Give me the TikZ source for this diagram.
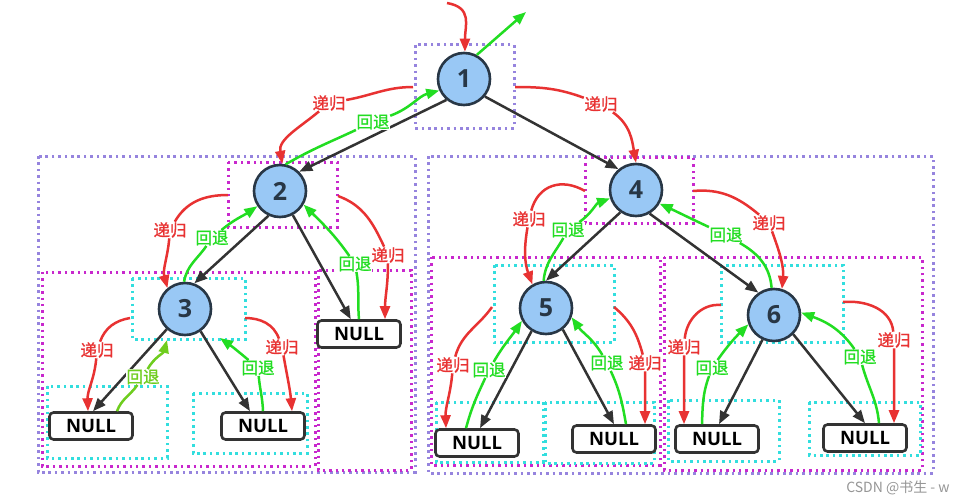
\documentclass[tikz,border=0pt]{standalone}
\usepackage{fontspec}
\usetikzlibrary{arrows.meta}
\newfontfamily\numfont{Open Sans}
\newfontfamily\cjkfont{Noto Sans CJK SC}
\newfontfamily\cjkbold{Noto Sans CJK SC}[FakeBold=1.2]
\definecolor{nodefill}{RGB}{153,200,245}
\definecolor{nodeline}{RGB}{40,55,70}
\definecolor{edgecol}{RGB}{51,51,51}
\definecolor{redc}{RGB}{232,50,50}
\definecolor{greenc}{RGB}{34,221,34}
\definecolor{oliveg}{RGB}{110,205,30}
\definecolor{lavc}{RGB}{150,132,222}
\definecolor{magc}{RGB}{200,40,205}
\definecolor{cyanc}{RGB}{50,222,222}
\definecolor{wmgray}{RGB}{150,150,150}
\begin{document}
\begin{tikzpicture}[x=1pt,y=1pt,
 circ/.style={circle, draw=nodeline, fill=nodefill, line width=2.6pt, minimum size=52pt, inner sep=0pt, font=\numfont\bfseries\fontsize{25}{25}\selectfont, text=nodeline},
 nullbox/.style={rectangle, rounded corners=4pt, draw=edgecol, fill=white, line width=2.6pt, minimum width=83pt, minimum height=27pt, inner sep=0pt, font=\numfont\bfseries\fontsize{18.5}{18.5}\selectfont, text=black},
 edge/.style={draw=edgecol, line width=2.5pt, -{Triangle[length=13pt,width=10pt]}},
 rec/.style={draw=redc, line width=2.5pt, -{Triangle[length=13pt,width=10pt]}},
 bak/.style={draw=greenc, line width=2.5pt, -{Triangle[length=13pt,width=10pt]}},
 bakol/.style={draw=oliveg, line width=2.5pt, -{Triangle[length=13pt,width=10pt]}},
 reclab/.style={fill=white, inner sep=0.5pt, text=redc, font=\cjkbold\fontsize{16.5}{16.5}\selectfont},
 baklab/.style={fill=white, inner sep=0.5pt, text=greenc, font=\cjkbold\fontsize{16.5}{16.5}\selectfont},
 lavbox/.style={draw=lavc, line width=3pt, dash pattern=on 2.6pt off 3.8pt},
 magbox/.style={draw=magc, line width=3pt, dash pattern=on 2.4pt off 4pt},
 cyanbox/.style={draw=cyanc, line width=3pt, dash pattern=on 2.6pt off 3.8pt},
]
\useasboundingbox[fill=white] (0,0) rectangle (972,-503);

% dotted frames
\draw[lavbox] (415,-45) rectangle (514,-128);
\draw[lavbox] (38,-156) rectangle (415,-472);
\draw[lavbox] (428,-156) rectangle (933,-473);
\draw[magbox] (228,-162) rectangle (337,-227);
\draw[magbox] (585,-157) rectangle (693,-223);
\draw[magbox] (42,-272) rectangle (315,-466);
\draw[magbox] (318,-270) rectangle (411,-470);
\draw[magbox] (431,-257) rectangle (660,-465);
\draw[magbox] (664,-257) rectangle (922,-470);
\draw[cyanbox] (132,-278) rectangle (245,-339);
\draw[cyanbox] (47,-386) rectangle (167,-458);
\draw[cyanbox] (193,-393) rectangle (307,-453);
\draw[cyanbox] (494,-265) rectangle (614,-342);
\draw[cyanbox] (721,-265) rectangle (843,-342);
\draw[cyanbox] (436,-402) rectangle (543,-462);
\draw[cyanbox] (545,-402) rectangle (654,-463);
\draw[cyanbox] (668,-400) rectangle (779,-461);
\draw[cyanbox] (809,-402) rectangle (920,-455);

% tree nodes
\node[circ] (n1) at (464,-79) {1};
\node[circ] (n2) at (280,-191) {2};
\node[circ] (n4) at (636,-190) {4};
\node[circ] (n3) at (185,-309) {3};
\node[circ] (n5) at (546,-308) {5};
\node[circ] (n6) at (774,-315) {6};
\node[nullbox] (l2) at (359,-334) {NULL};
\node[nullbox] (l3a) at (91,-426) {NULL};
\node[nullbox] (l3b) at (263,-426) {NULL};
\node[nullbox] (l5a) at (477,-443) {NULL};
\node[nullbox] (l5b) at (614,-439) {NULL};
\node[nullbox] (l6a) at (717,-439) {NULL};
\node[nullbox] (l6b) at (865,-438) {NULL};

% tree edges
\draw[edge] (n1.230) -- (n2.45);
\draw[edge] (n1.-40) -- (n4.130);
\draw[edge] (n2.245) -- (n3.70);
\draw[edge] (n2.-62) -- (l2);
\draw[edge] (n3.228) -- ([xshift=2pt]l3a.north);
\draw[edge] (n3.-55) -- ([xshift=-13pt]l3b.north);
\draw[edge] (n4.235) -- (n5.north);
\draw[edge] (n4.-60) -- (n6.125);
\draw[edge] (n5.238) -- ([xshift=3pt]l5a.north);
\draw[edge] (n5.-52) -- (l5b.north);
\draw[edge] (n6.245) -- ([xshift=2pt]l6a.north);
\draw[edge] (n6.-45) -- (l6b.north);

% labels
\node[reclab] (R12) at (329,-103) {递归};
\node[baklab] (G12) at (373,-122) {回退};
\node[reclab] (R14) at (601,-104) {递归};
\node[reclab] (R23) at (170,-230) {递归};
\node[baklab] (G23) at (212,-238) {回退};
\node[reclab] (R2N) at (388,-255) {递归};
\node[baklab] (G2N) at (355,-264) {回退};
\node[reclab] (R3a) at (97,-350) {递归};
\node[baklab,text=oliveg] (G3a) at (143,-377) {回退};
\node[reclab] (R3b) at (282,-347) {递归};
\node[baklab] (G3b) at (258,-368) {回退};
\node[reclab] (R45) at (529,-219) {递归};
\node[baklab] (G45) at (568,-230) {回退};
\node[reclab] (R46) at (769,-223) {递归};
\node[baklab] (G46) at (726,-235) {回退};
\node[reclab] (R5a) at (453,-365) {递归};
\node[baklab] (G5a) at (489,-370) {回退};
\node[reclab] (R5b) at (645,-363) {递归};
\node[baklab] (G5b) at (607,-363) {回退};
\node[reclab] (R6a) at (684,-347) {递归};
\node[baklab] (G6a) at (712,-368) {回退};
\node[reclab] (R6b) at (894,-340) {递归};
\node[baklab] (G6b) at (860,-357) {回退};

% free ends
\coordinate (s0) at (447,-3);
\coordinate (e0) at (526,-12);
\coordinate (s12) at (413,-87);
\coordinate (s14) at (515,-87);
\coordinate (s23) at (228,-195);
\coordinate (s2N) at (338,-196);
\coordinate (s3a) at (130,-318);
\coordinate (e3a) at (167,-340);
\coordinate (s3b) at (245,-318);
\coordinate (e3b) at (220,-338);
\coordinate (s45) at (585,-191);
\coordinate (s46) at (693,-191);
\coordinate (s5a) at (492,-307);
\coordinate (s5b) at (614,-307);
\coordinate (s6a) at (721,-305);
\coordinate (s6b) at (843,-302);

% recursion / backtrack arrows
\draw[rec] (s0) to[out=-10,in=90,looseness=1.3] (n1.88);
\draw[bak] (n1.62) -- (e0);
\draw[rec] (s12) to[out=180,in=10] (R12) to[out=220,in=100] (n2.85);
\draw[bak] (n2.78) to[out=30,in=205] (G12) to[out=20,in=195] (n1.205);
\draw[rec] (s14) to[out=0,in=160] (R14) to[out=-35,in=100] (n4.north);
\draw[rec] (s23) to[out=180,in=60] (R23) to[out=-95,in=105] (n3.130);
\draw[bak] (n3.92) to[out=80,in=235] (G23) to[out=40,in=214] (n2.214);
\draw[rec] (s2N) to[out=-20,in=115] (R2N) to[out=-90,in=90] ([xshift=26pt]l2.north);
\draw[bak] (l2.north) to[out=95,in=-80] (G2N) to[out=125,in=-45] (n2.-30);
\draw[rec] (s3a) to[out=190,in=70] (R3a) to[out=-95,in=92] ([xshift=-3pt]l3a.north);
\draw[bakol] ([xshift=26pt]l3a.north) to[out=70,in=235] (G3a) to[out=60,in=255] (e3a);
\draw[rec] (s3b) to[out=0,in=110] (R3b) to[out=-80,in=95] ([xshift=29pt]l3b.north);
\draw[bak] (l3b.north) to[out=92,in=-85] (G3b) to[out=140,in=-35] (e3b);
\draw[rec] (s45) to[out=150,in=75,looseness=1.2] (R45) to[out=-100,in=110] (n5.120);
\draw[bak] (n5.95) to[out=85,in=240] (G45) to[out=35,in=200] (n4.198);
\draw[rec] (s46) to[out=5,in=140] (R46) to[out=-70,in=85] (n6.73);
\draw[bak] (n6.95) to[out=95,in=-30] (G46) to[out=155,in=-25] (n4.-30);
\draw[rec] (s5a) to[out=235,in=75] (R5a) to[out=-95,in=92] ([xshift=-31pt]l5a.north);
\draw[bak] ([xshift=-11pt]l5a.north) to[out=75,in=245] (G5a) to[out=60,in=236] (n5.208);
\draw[rec] (s5b) to[out=-40,in=105] (R5b) to[out=-90,in=90] ([xshift=31pt]l5b.north);
\draw[bak] ([xshift=12pt]l5b.north) to[out=100,in=-65] (G5b) to[out=120,in=-55] (n5.-20);
\draw[rec] (s6a) to[out=175,in=85] (R6a) to[out=-90,in=90] ([xshift=-33pt]l6a.north);
\draw[bak] ([xshift=-15pt]l6a.north) to[out=88,in=250] (G6a) to[out=55,in=225] (n6.200);
\draw[rec] (s6b) to[out=5,in=95] (R6b) to[out=-90,in=90] ([xshift=29pt]l6b.north);
\draw[bak] ([xshift=14pt]l6b.north) to[out=95,in=-75] (G6b) to[out=125,in=-20] (n6.5);

% watermark
\node[font=\cjkfont\fontsize{14}{14}\selectfont, text=wmgray] (wm) at (898,-488) {CSDN @书生 - w};
\end{tikzpicture}
\end{document}
